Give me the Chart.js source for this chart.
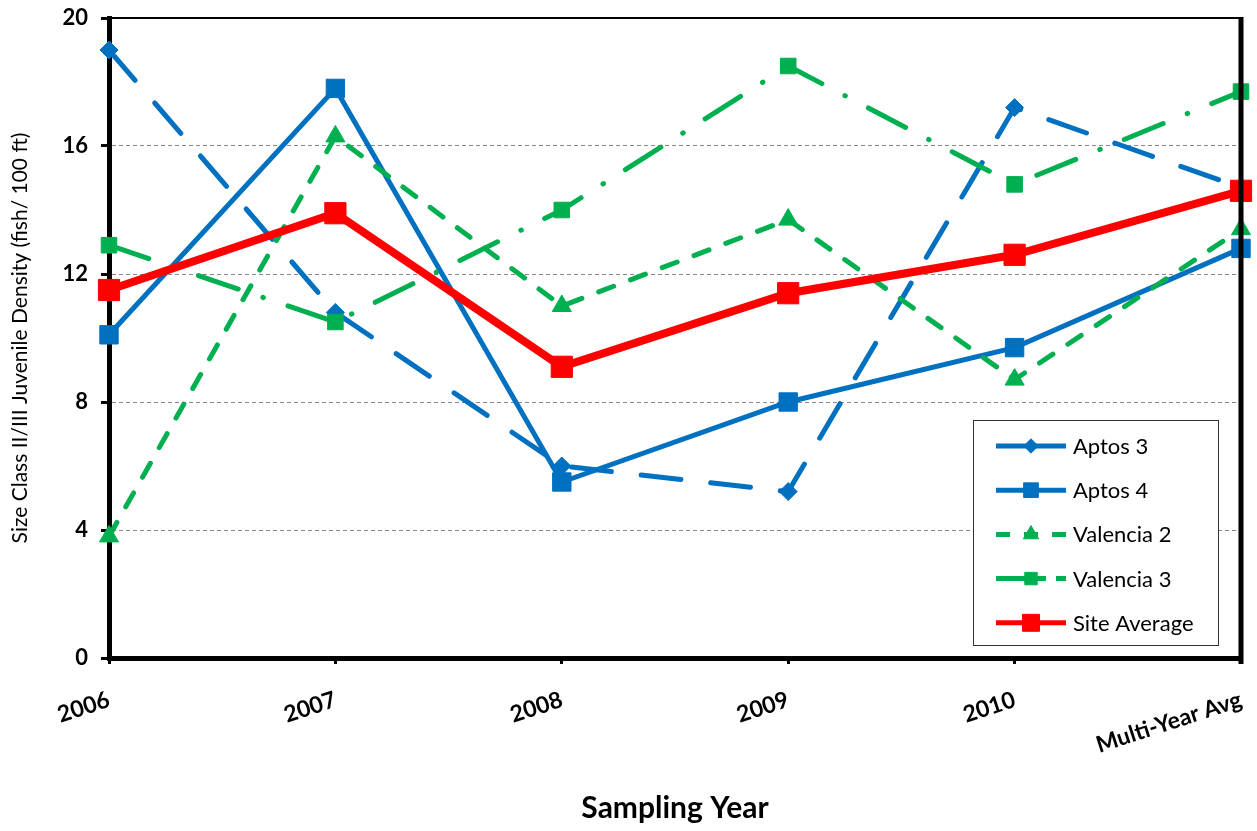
<!DOCTYPE html>
<html>
<head>
<meta charset="utf-8">
<script src="https://cdn.jsdelivr.net/npm/chart.js@4.4.0/dist/chart.umd.min.js"></script>
<style>
  body { margin: 0; background: #fff; }
</style>
</head>
<body>
<canvas id="densityChart" width="1257" height="831"></canvas>
<script>
// Datos
const years = ['2006', '2007', '2008', '2009', '2010', 'Multi-Year Avg'];
const aptos3 = [19.0, 10.8, 6.0, 5.2, 17.2, 14.7];
const aptos4 = [10.1, 17.8, 5.5, 8.0, 9.7, 12.8];
const valencia2 = [3.8, 16.3, 11.0, 13.7, 8.7, 13.4];
const valencia3 = [12.9, 10.5, 14.0, 18.5, 14.8, 17.7];
const siteAverage = [11.5, 13.9, 9.1, 11.4, 12.6, 14.6];
const yTicks = [0, 4, 8, 12, 16, 20];

const BLUE = '#0070C0';
const GREEN = '#00B050';
const RED = '#FF0000';
const FONT = 'Lato, "Open Sans", sans-serif';

// Marco superior y derecho del area de trazado
const framePlugin = {
  id: 'frame',
  afterDatasetsDraw(chart) {
    const { ctx, chartArea: a } = chart;
    ctx.save();
    ctx.strokeStyle = '#000';
    ctx.lineWidth = 2;
    ctx.beginPath();
    ctx.moveTo(a.left, a.top);
    ctx.lineTo(a.right, a.top);
    ctx.stroke();
    ctx.lineWidth = 5;
    ctx.beginPath();
    ctx.moveTo(a.right, a.top - 1);
    ctx.lineTo(a.right, a.bottom + 6);
    ctx.stroke();
    ctx.restore();
  }
};

// Leyenda dentro del grafico, con recuadro
const boxLegend = {
  id: 'boxLegend',
  afterDraw(chart) {
    const { ctx, chartArea: a } = chart;
    const w = 245, h = 225;
    const x0 = a.right - 23 - w, y0 = a.bottom - 13 - h;
    ctx.save();
    ctx.fillStyle = '#fff';
    ctx.fillRect(x0, y0, w, h);
    ctx.strokeStyle = '#333';
    ctx.lineWidth = 1;
    ctx.strokeRect(x0 + 0.5, y0 + 0.5, w, h);
    chart.data.datasets.forEach((ds, i) => {
      const y = y0 + 26 + i * 44.2;
      ctx.strokeStyle = ds.borderColor;
      ctx.lineWidth = Math.min(ds.borderWidth, 5);
      ctx.lineCap = 'butt';
      ctx.setLineDash(ds.legendDash || []);
      ctx.beginPath();
      ctx.moveTo(x0 + 23, y);
      ctx.lineTo(x0 + 93, y);
      ctx.stroke();
      ctx.setLineDash([]);
      ctx.fillStyle = ds.backgroundColor;
      ctx.lineWidth = 1;
      Chart.helpers.drawPoint(ctx, {
        pointStyle: ds.pointStyle,
        radius: ds.pointRadius * 0.8,
        rotation: 0,
        borderWidth: 1
      }, x0 + 58, y);
      ctx.fillStyle = '#000';
      ctx.font = '22px ' + FONT;
      ctx.textBaseline = 'middle';
      ctx.textAlign = 'left';
      ctx.fillText(ds.label, x0 + 100, y + 1);
    });
    ctx.restore();
  }
};

const ctx = document.getElementById('densityChart').getContext('2d');
new Chart(ctx, {
  type: 'line',
  data: {
    labels: years,
    datasets: [
      {
        label: 'Aptos 3',
        data: aptos3,
        borderColor: BLUE,
        backgroundColor: BLUE,
        borderWidth: 5,
        borderDash: [40, 30],
        borderCapStyle: 'round',
        pointStyle: 'rectRot',
        pointRadius: 9,
        pointBorderWidth: 1,
        order: 5
      },
      {
        label: 'Aptos 4',
        data: aptos4,
        borderColor: BLUE,
        backgroundColor: BLUE,
        borderWidth: 5,
        pointStyle: 'rect',
        pointRadius: 13,
        pointBorderWidth: 1,
        order: 4
      },
      {
        label: 'Valencia 2',
        data: valencia2,
        borderColor: GREEN,
        backgroundColor: GREEN,
        borderWidth: 5,
        borderDash: [16, 18],
        borderCapStyle: 'round',
        legendDash: [14, 14],
        pointStyle: 'triangle',
        pointRadius: 11,
        pointBorderWidth: 1,
        order: 3
      },
      {
        label: 'Valencia 3',
        data: valencia3,
        borderColor: GREEN,
        backgroundColor: GREEN,
        borderWidth: 5,
        borderDash: [42, 26, 0.5, 26],
        borderCapStyle: 'round',
        legendDash: [50, 10],
        pointStyle: 'rect',
        pointRadius: 11,
        pointBorderWidth: 1,
        order: 2
      },
      {
        label: 'Site Average',
        data: siteAverage,
        borderColor: RED,
        backgroundColor: RED,
        borderWidth: 8,
        pointStyle: 'rect',
        pointRadius: 15,
        pointBorderWidth: 1,
        order: 1
      }
    ]
  },
  options: {
    responsive: false,
    animation: false,
    clip: false,
    layout: { padding: { left: 0, top: 18, right: 14, bottom: 0 } },
    plugins: {
      legend: { display: false },
      tooltip: { enabled: false }
    },
    scales: {
      x: {
        grid: {
          drawOnChartArea: false,
          drawTicks: true,
          tickLength: 6,
          tickColor: '#000',
          tickWidth: 3
        },
        border: { display: true, color: '#000', width: 5 },
        ticks: {
          color: '#000',
          font: { family: FONT, size: 23, weight: 'bold' },
          minRotation: 18,
          maxRotation: 18,
          padding: 22,
          autoSkip: false
        },
        title: {
          display: true,
          text: 'Sampling Year',
          color: '#000',
          font: { family: FONT, size: 30, weight: 'bold' },
          padding: { top: 0, bottom: 5 }
        },
        afterFit(scale) {
          scale.height = 173;
          scale.paddingLeft = 0;
          scale.paddingRight = 0;
        }
      },
      y: {
        min: 0,
        max: 20,
        afterBuildTicks(scale) { scale.ticks = yTicks.map(v => ({ value: v })); },
        grid: {
          color: '#888',
          lineWidth: 1,
          tickColor: '#000',
          tickWidth: 3,
          tickLength: 8,
          tickBorderDash: []
        },
        border: { display: true, color: '#000', width: 5, dash: [4, 3] },
        ticks: {
          color: '#000',
          font: { family: FONT, size: 22, weight: 'bold' },
          padding: 13
        },
        title: {
          display: true,
          text: 'Size Class II/III Juvenile Density (fish/ 100 ft)',
          color: '#000',
          font: { family: FONT, size: 21 },
          padding: { top: 8, bottom: 8 }
        },
        afterFit(scale) {
          scale.width = 109;
          scale.paddingTop = 0;
          scale.paddingBottom = 0;
        }
      }
    }
  },
  plugins: [framePlugin, boxLegend]
});
</script>
</body>
</html>
